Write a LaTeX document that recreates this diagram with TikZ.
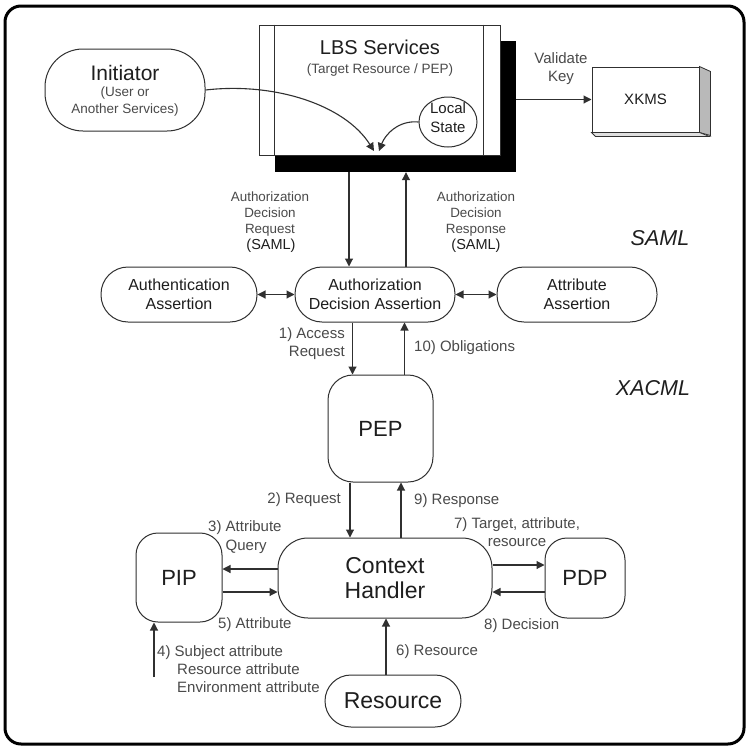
\documentclass[tikz,border=0pt]{standalone}
\usepackage{fontspec}
\setmainfont{Liberation Sans}
\usetikzlibrary{arrows.meta,shapes.geometric,calc}

\newcommand\fsz[2]{\fontsize{#1}{#2}\selectfont}

\definecolor{ink}{HTML}{1E1E1E}
\definecolor{lbl}{HTML}{4A4A4A}
\definecolor{edge}{HTML}{303030}

\begin{document}
\begin{tikzpicture}[x=1pt,y=-1pt,
  box/.style={draw=edge, line width=1pt, fill=white, inner sep=0pt, text=ink, align=center},
  pill/.style={box, rounded corners=#1},
  lab/.style={text=lbl, inner sep=0pt, align=center, font=\fsz{15}{18}},
  samllab/.style={text=lbl, inner sep=0pt, align=center, font=\fsz{13.4}{16}},
  arr/.style={draw=edge, line width=1.1pt, -{Triangle[length=8pt,width=8pt]}},
  dbl/.style={draw=edge, line width=1.1pt, {Triangle[length=8pt,width=8pt]}-{Triangle[length=8pt,width=8pt]}},
  tag/.style={text=ink, inner sep=0pt, font=\fsz{21.5}{24}\itshape}
]
\useasboundingbox (0,0) rectangle (748,747);
\fill[white] (0,0) rectangle (748,747);

% outer frame
\draw[line width=3pt, rounded corners=16pt] (5,6) rectangle (744,744);

% LBS services box with its heavy shadow
\node[fill=black, inner sep=0pt, minimum width=241pt, minimum height=131pt] (lbsshadow) at (395.5,106.5) {};
\node[box, rectangle, minimum width=241pt, minimum height=130pt] (lbs) at (379.5,90) {};
\draw[edge, line width=1pt] ([xshift=16pt]lbs.north west) -- ([xshift=16pt]lbs.south west);
\draw[edge, line width=1pt] ([xshift=-17pt]lbs.north east) -- ([xshift=-17pt]lbs.south east);
\node[text=ink, inner sep=0pt, font=\fsz{20}{24}] (lbsTitle) at (380,47) {LBS Services};
\node[text=lbl, inner sep=0pt, font=\fsz{13.5}{16}] (lbsSub) at (380,70) {(Target Resource / PEP)};
\node[box, ellipse, minimum width=58pt, minimum height=50pt] (local) at (448,122) {};
\node[text=ink, inner sep=0pt, align=center, font=\fsz{15}{19}] (localTxt) at (448,118) {Local\\State};

% initiator
\node[pill=38pt, minimum width=160pt, minimum height=82pt] (init) at (125,90) {};
\node[text=ink, inner sep=0pt, font=\fsz{21}{24}] (initTxt) at (125,73) {Initiator};
\node[text=lbl, inner sep=0pt, align=center, font=\fsz{13.5}{17}] (initSub) at (125,102) {(User or\\Another Services)};

\coordinate (meetA) at (374,151);
\coordinate (meetB) at (379,151);
\draw[arr] (init.east) .. controls (275,82) and (345,105) .. (meetA);
\draw[arr] (local.west) .. controls (398,120) and (385,135) .. (meetB);

% XKMS block
\node[box, rectangle, minimum width=107pt, minimum height=65pt, font=\fsz{15}{18}] (xkms) at (645.5,99.5) {XKMS};
\filldraw[fill=gray!55, draw=edge, line width=0.8pt] (xkms.north east) -- ++(11,5) -- ++(0,64) -- (xkms.south east) -- cycle;
\filldraw[fill=gray!25, draw=edge, line width=0.8pt] (xkms.south west) -- ++(4,4) -- ++(114,0) -- (xkms.south east) -- cycle;
\draw[arr] (lbsshadow.east |- xkms.west) -- (xkms.west);
\node[lab] (vk) at (561,69) {Validate\\Key};

% SAML assertions
\node[pill=27pt, minimum width=156pt, minimum height=55pt, font=\fsz{16}{19}] (authn) at (179,294.5) {Authentication\\Assertion};
\node[pill=27pt, minimum width=160pt, minimum height=55pt, font=\fsz{16}{19}] (authz) at (375,294.5) {Authorization\\Decision Assertion};
\node[pill=27pt, minimum width=160pt, minimum height=55pt, font=\fsz{16}{19}] (attr) at (577,294.5) {Attribute\\Assertion};
\draw[dbl] (authn.east) -- (authz.west);
\draw[dbl] (authz.east) -- (attr.west);

\path (authz.north) ++(-26,0) coordinate (reqBot);
\path (authz.north) ++(31,0) coordinate (rspBot);
\draw[arr] (reqBot |- lbsshadow.south) -- (reqBot);
\draw[arr] (rspBot) -- (rspBot |- lbsshadow.south);
\node[samllab] (reqLab) at (270,214) {Authorization\\Decision\\Request};
\node[text=ink, inner sep=0pt, font=\fsz{14.5}{16}] (reqSaml) at (271,246) {(SAML)};
\node[samllab] (rspLab) at (476,214) {Authorization\\Decision\\Response};
\node[text=ink, inner sep=0pt, font=\fsz{14.5}{16}] (rspSaml) at (476,246) {(SAML)};

\node[tag] (samlTag) at (660,238) {SAML};
\node[tag] (xacmlTag) at (653,388) {XACML};

% XACML flow
\node[pill=25pt, minimum width=105pt, minimum height=107pt, font=\fsz{22}{26}] (pep) at (380.5,428.5) {PEP};
\node[pill=30pt, minimum width=214pt, minimum height=80pt, font=\fsz{23}{25}] (ch) at (385,578) {Context\\Handler};
\node[pill=22pt, minimum width=86pt, minimum height=89pt, font=\fsz{22}{26}] (pip) at (179,577.5) {PIP};
\node[pill=22pt, minimum width=80pt, minimum height=80pt, font=\fsz{22}{26}] (pdp) at (585,578) {PDP};
\node[pill=26pt, minimum width=136pt, minimum height=52pt, font=\fsz{23}{26}] (res) at (393,701) {Resource};

\path (pep.north) ++(-28,0) coordinate (accBot);
\path (pep.north) ++(24,0) coordinate (oblBot);
\draw[arr] (accBot |- authz.south) -- (accBot);
\draw[arr] (oblBot) -- (oblBot |- authz.south);
\node[lab, align=right, anchor=east] (accLab) at (345,344) {1) Access\\Request};
\node[lab, anchor=west] (oblLab) at (414,348) {10) Obligations};

\path (ch.north) ++(-35,0) coordinate (rq2);
\path (ch.north) ++(16,0) coordinate (rs9);
\draw[arr] (rq2 |- pep.south) -- (rq2);
\draw[arr] (rs9) -- (rs9 |- pep.south);
\node[lab, anchor=east] (rqLab) at (341,500) {2) Request};
\node[lab, anchor=west] (rsLab) at (414,501) {9) Response};

\path (ch.west) ++(0,-9) coordinate (q3);
\path (ch.west) ++(0,14) coordinate (a5);
\draw[arr] (q3) -- (q3 -| pip.east);
\draw[arr] (a5 -| pip.east) -- (a5);
\node[lab, align=left, anchor=west, font=\fsz{15}{19}] (qLab) at (208,537.5) {3) Attribute\\\hphantom{3) }Query};
\node[lab, anchor=west] (aLab) at (218,625) {5) Attribute};

\coordinate (attrSrc) at (154,677);
\draw[arr] (attrSrc) -- (attrSrc |- pip.south);
\node[lab, align=left, anchor=west] (srcLab) at (157,669)
  {4) Subject attribute\\\hspace*{20pt}Resource attribute\\\hspace*{20pt}Environment attribute};

\path (ch.east) ++(0,-13) coordinate (t7);
\path (ch.east) ++(0,14) coordinate (d8);
\draw[arr] (t7) -- (t7 -| pdp.west);
\draw[arr] (d8 -| pdp.west) -- (d8);
\node[lab] (tLab) at (517,532) {7) Target, attribute,\\resource};
\node[lab, anchor=west] (dLab) at (484,626) {8) Decision};

\path (res.north) ++(-7,0) coordinate (r6);
\draw[arr] (r6) -- (r6 |- ch.south);
\node[lab, anchor=west] (resLab) at (396,652) {6) Resource};
\end{tikzpicture}
\end{document}
